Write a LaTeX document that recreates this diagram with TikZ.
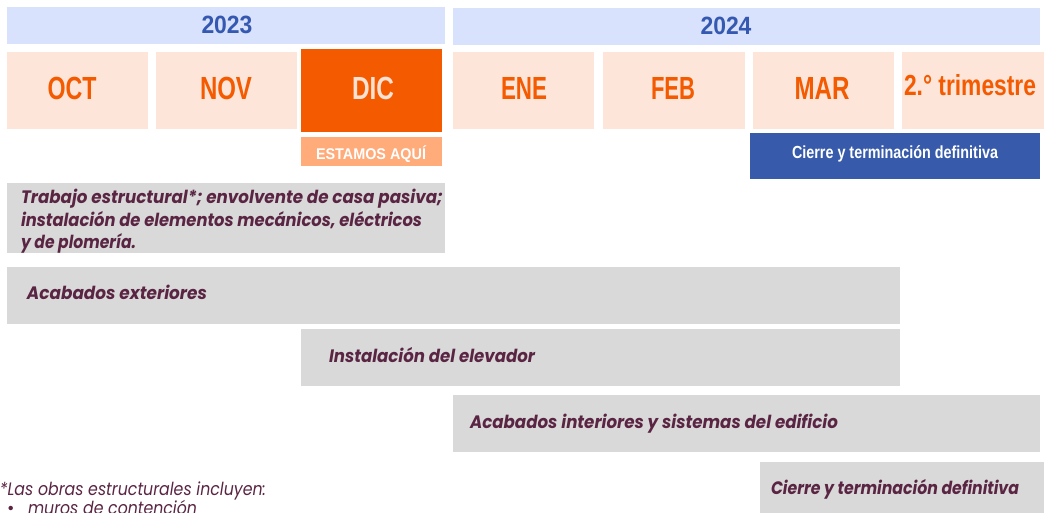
\documentclass[tikz,border=0pt]{standalone}
\usepackage{fontspec}
\usepackage{graphicx}
\setmainfont{Liberation Sans}
\newfontfamily\popfont{Poppins}
\newcommand{\fitw}[2]{\resizebox{#1}{\height}{#2}}
\definecolor{yearbg}{HTML}{D9E2FD}
\definecolor{yeartx}{HTML}{3558B0}
\definecolor{peach}{HTML}{FDE5D9}
\definecolor{orng}{HTML}{F45A00}
\definecolor{dictx}{HTML}{FDE2D4}
\definecolor{hereclr}{HTML}{FFAB7A}
\definecolor{bluebox}{HTML}{375BAA}
\definecolor{grayb}{HTML}{D9D9D9}
\definecolor{purp}{HTML}{5A2543}
\tikzset{
  boxnode/.style={rectangle, draw=none, inner sep=0pt, outer sep=0pt, anchor=north west},
  lbl/.style={inner sep=0pt, outer sep=0pt, anchor=base},
  mon/.style={lbl, text=orng, font=\fontsize{32}{32}\selectfont\bfseries},
  yr/.style={lbl, text=yeartx, font=\fontsize{25}{25}\selectfont\bfseries},
  task/.style={inner sep=0pt, outer sep=0pt, anchor=base west, text=purp, font=\popfont\fontsize{18}{18}\selectfont\bfseries\itshape},
}
\begin{document}
\begin{tikzpicture}[x=1pt,y=-1pt]
\useasboundingbox (0,0) rectangle (1044,512);
\clip (0,0) rectangle (1044,512);
% year bars
\node[boxnode, fill=yearbg, minimum width=438, minimum height=37] (y23) at (7,7) {};
\node[boxnode, fill=yearbg, minimum width=587, minimum height=37] (y24) at (453,8) {};
\node[yr] (t23) at (227,33) {\fitw{51pt}{2023}};
\node[yr] (t24) at (726,34) {\fitw{51pt}{2024}};
% months
\node[boxnode, fill=peach, minimum width=141, minimum height=77] (oct) at (7,52) {};
\node[boxnode, fill=peach, minimum width=141, minimum height=77] (nov) at (156,52) {};
\node[boxnode, fill=orng, minimum width=141, minimum height=83] (dic) at (301,49) {};
\node[boxnode, fill=peach, minimum width=141, minimum height=77] (ene) at (453,52) {};
\node[boxnode, fill=peach, minimum width=142, minimum height=77] (feb) at (603,52) {};
\node[boxnode, fill=peach, minimum width=141, minimum height=77] (mar) at (753,52) {};
\node[boxnode, fill=peach, minimum width=142, minimum height=77] (q2) at (902,52) {};
\node[mon] (toct) at (72,99) {\fitw{49pt}{OCT}};
\node[mon] (tnov) at (226,99) {\fitw{52pt}{NOV}};
\node[mon, text=dictx] (tdic) at (373,99) {\fitw{42pt}{DIC}};
\node[mon] (tene) at (524,99) {\fitw{46pt}{ENE}};
\node[mon] (tfeb) at (673,99) {\fitw{44pt}{FEB}};
\node[mon] (tmar) at (822,99) {\fitw{55pt}{MAR}};
\node[lbl, text=orng, font=\fontsize{29}{29}\selectfont\bfseries] (tq2) at (970,95) {\fitw{132pt}{2.° trimestre}};
% markers
\node[boxnode, fill=hereclr, minimum width=141, minimum height=29] (here) at (301,137) {};
\node[lbl, text=white, font=\fontsize{15.5}{15.5}\selectfont\bfseries] (there) at (371,159) {\fitw{110pt}{ESTAMOS AQUÍ}};
\node[boxnode, fill=bluebox, minimum width=290, minimum height=46] (close) at (750,133) {};
\node[lbl, text=white, font=\fontsize{17.5}{17.5}\selectfont\bfseries] (tclose) at (895,158) {\fitw{206pt}{Cierre y terminación definitiva}};
% task bars
\node[boxnode, fill=grayb, minimum width=438, minimum height=70] (b1) at (7,183) {};
\node[task] (tb1a) at (21,203) {\fitw{422pt}{Trabajo estructural*; envolvente de casa pasiva;}};
\node[task] (tb1b) at (21,226) {\fitw{401pt}{instalación de elementos mecánicos, eléctricos}};
\node[task] (tb1c) at (21,248) {\fitw{115pt}{y de plomería.}};
\node[boxnode, fill=grayb, minimum width=893, minimum height=57] (b2) at (7,267) {};
\node[task] (tb2) at (27,299) {\fitw{180pt}{Acabados exteriores}};
\node[boxnode, fill=grayb, minimum width=599, minimum height=57] (b3) at (301,329) {};
\node[task] (tb3) at (329,362) {\fitw{206pt}{Instalación del elevador}};
\node[boxnode, fill=grayb, minimum width=587, minimum height=57] (b4) at (453,395) {};
\node[task] (tb4) at (470,428) {\fitw{368pt}{Acabados interiores y sistemas del edificio}};
\node[boxnode, fill=grayb, minimum width=284, minimum height=60] (b5) at (760,462) {};
\node[task] (tb5) at (771,494) {\fitw{248pt}{Cierre y terminación definitiva}};
% footnote
\node[task, font=\popfont\fontsize{18}{18}\selectfont\itshape] (fn) at (0,495) {\fitw{266pt}{*Las obras estructurales incluyen:}};
\node[task, font=\popfont\fontsize{18}{18}\selectfont] (bul) at (7,514) {•};
\node[task, font=\popfont\fontsize{18}{18}\selectfont\itshape] (fn2) at (28,514) {\fitw{169pt}{muros de contención}};
\end{tikzpicture}
\end{document}
